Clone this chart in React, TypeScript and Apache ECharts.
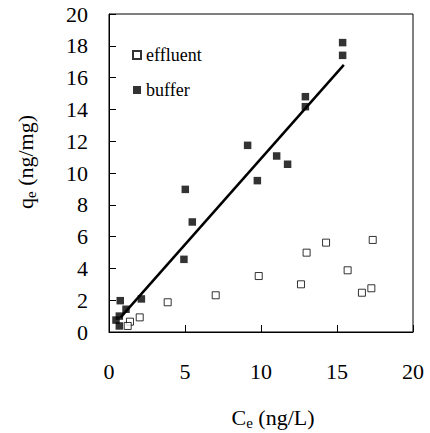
import React, { useEffect, useRef } from "react";
import * as echarts from "echarts";

const effluentX = [17.35, 14.28, 13.0, 15.7, 9.85, 12.63, 17.26, 16.64, 7.02, 3.86, 2.02, 1.38, 1.23];
const effluentY = [5.79, 5.62, 4.99, 3.88, 3.52, 3.0, 2.75, 2.47, 2.31, 1.87, 0.92, 0.65, 0.38];
const bufferX = [15.37, 15.37, 12.92, 12.92, 9.12, 11.03, 11.75, 9.76, 5.02, 5.48, 4.93, 0.74, 2.13, 1.12, 0.68, 0.46, 0.68];
const bufferY = [18.2, 17.4, 14.8, 14.17, 11.74, 11.07, 10.55, 9.52, 8.97, 6.92, 4.57, 1.97, 2.08, 1.43, 1.0, 0.75, 0.38];
const fitX = [0.75, 15.45];
const fitY = [0.9, 16.8];
const xTicks = [0, 5, 10, 15, 20];
const yTicks = [0, 2, 4, 6, 8, 10, 12, 14, 16, 18, 20];

const FONT = "Liberation Serif";

export default function App() {
  const ref = useRef<HTMLDivElement>(null);
  useEffect(() => {
    if (!ref.current) return;
    const chart = echarts.init(ref.current, undefined, { renderer: "svg" });
    const zip = (xs: number[], ys: number[]) => xs.map((x, i) => [x, ys[i]]);
    const rich = {
      m: { fontSize: 22, fontFamily: FONT, fill: "#000", color: "#000", lineHeight: 26 },
      s: { fontSize: 15, fontFamily: FONT, fill: "#000", color: "#000", lineHeight: 15, verticalAlign: "bottom" },
    };
    chart.setOption({
      animation: false,
      textStyle: { fontFamily: FONT, color: "#000" },
      grid: { left: 109, top: 14, width: 304, height: 318, show: true, borderColor: "#000", borderWidth: 1, containLabel: false },
      xAxis: {
        type: "value",
        min: xTicks[0],
        max: xTicks[xTicks.length - 1],
        interval: 5,
        axisLine: { lineStyle: { color: "#000", width: 1 } },
        axisTick: { inside: true, length: 7, lineStyle: { color: "#000" } },
        splitLine: { show: false },
        axisLabel: { color: "#000", fontSize: 22, fontFamily: FONT, margin: 28 },
      },
      yAxis: {
        type: "value",
        min: yTicks[0],
        max: yTicks[yTicks.length - 1],
        interval: 2,
        axisLine: { show: true, lineStyle: { color: "#000", width: 1 } },
        axisTick: { show: true, inside: true, length: 7, lineStyle: { color: "#000" } },
        splitLine: { show: false },
        axisLabel: { color: "#000", fontSize: 22, fontFamily: FONT, margin: 21 },
      },
      legend: {
        data: ["effluent", "buffer"],
        orient: "vertical",
        left: 127,
        top: 41,
        itemGap: 17,
        itemWidth: 8,
        itemHeight: 8,
        icon: "rect",
        textStyle: { fontSize: 18, fontFamily: FONT, color: "#000" },
      },
      graphic: [
        {
          type: "text",
          x: 273,
          y: 417,
          style: {
            text: "{m|C}{s|e}{m| (ng/L)}",
            align: "center",
            verticalAlign: "middle",
            fill: "#000",
            fontFamily: FONT,
            fontSize: 22,
            rich,
          },
        },
        {
          type: "text",
          x: 25,
          y: 162,
          rotation: Math.PI / 2,
          style: {
            text: "{m|q}{s|e}{m| (ng/mg)}",
            align: "center",
            verticalAlign: "middle",
            fill: "#000",
            fontFamily: FONT,
            fontSize: 22,
            rich,
          },
        },
      ],
      series: [
        {
          name: "trend",
          type: "line",
          data: zip(fitX, fitY),
          symbol: "none",
          lineStyle: { color: "#000", width: 2.5 },
          silent: true,
          z: 1,
        },
        {
          name: "effluent",
          type: "scatter",
          data: zip(effluentX, effluentY),
          symbol: "rect",
          symbolSize: 7,
          itemStyle: { color: "#fff", borderColor: "#000", borderWidth: 1 },
          z: 3,
        },
        {
          name: "buffer",
          type: "scatter",
          data: zip(bufferX, bufferY),
          symbol: "rect",
          symbolSize: 7.5,
          itemStyle: { color: "#000" },
          z: 3,
        },
      ],
    });
    return () => chart.dispose();
  }, []);
  return <div ref={ref} style={{ width: 430, height: 433, position: "absolute", left: 0, top: 0 }} />;
}
